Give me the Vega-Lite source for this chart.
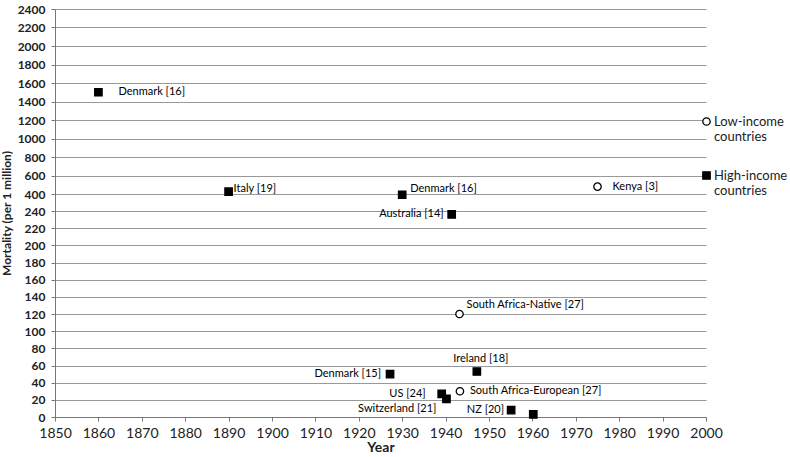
{
  "$schema": "https://vega.github.io/schema/vega-lite/v6.json",
  "width": 651,
  "height": 408,
  "autosize": {"type": "none"},
  "padding": {"left": 55, "top": 9, "right": 84, "bottom": 40},
  "background": "white",
  "config": {
    "view": {"stroke": null},
    "font": "Lato",
    "axis": {"labelFont": "Lato", "titleFont": "Lato"},
    "legend": {"labelFont": "Lato"}
  },
  "data": {
    "values": [
      {"year": 1860, "mortality": 1500, "income": "High-income countries", "label": "Denmark [16]"},
      {"year": 1890, "mortality": 425, "income": "High-income countries", "label": "Italy [19]"},
      {"year": 1930, "mortality": 393, "income": "High-income countries", "label": "Denmark [16]"},
      {"year": 1975, "mortality": 480, "income": "Low-income countries", "label": "Kenya [3]"},
      {"year": 1941.4, "mortality": 236, "income": "High-income countries", "label": "Australia [14]"},
      {"year": 1943.2, "mortality": 120, "income": "Low-income countries", "label": "South Africa-Native [27]"},
      {"year": 1947.2, "mortality": 53, "income": "High-income countries", "label": "Ireland [18]"},
      {"year": 1927.2, "mortality": 50, "income": "High-income countries", "label": "Denmark [15]"},
      {"year": 1939.1, "mortality": 27, "income": "High-income countries", "label": "US [24]"},
      {"year": 1940.2, "mortality": 21, "income": "High-income countries", "label": "Switzerland [21]"},
      {"year": 1943.3, "mortality": 30, "income": "Low-income countries", "label": "South Africa-European [27]"},
      {"year": 1955.1, "mortality": 8, "income": "High-income countries", "label": "NZ [20]"},
      {"year": 1960.2, "mortality": 3, "income": "High-income countries", "label": "Italy [19]"}
    ]
  },
  "encoding": {
    "x": {
      "field": "year", "type": "quantitative",
      "scale": {"domain": [1850, 2000], "nice": false, "zero": false},
      "axis": {
        "title": "Year", "values": [1850,1860,1870,1880,1890,1900,1910,1920,1930,1940,1950,1960,1970,1980,1990,2000],
        "format": "d", "grid": false, "labelFontSize": 14, "labelColor": "#222",
        "titleFontSize": 14, "titleFontWeight": "bold", "titleColor": "#222", "titlePadding": 0,
        "labelPadding": 5, "tickSize": 4, "tickColor": "#777", "domainColor": "#777",
        "labelFlush": false
      }
    },
    "y": {
      "field": "mortality", "type": "quantitative",
      "scale": {"domain": [0, 240, 400, 2400], "range": [408, 202, 185, 0], "nice": false, "zero": false},
      "axis": {
        "title": "Mortality (per 1 million)", "format": "d",
        "values": [0,20,40,60,80,100,120,140,160,180,200,220,240,400,600,800,1000,1200,1400,1600,1800,2000,2200,2400],
        "grid": true, "gridColor": "#999", "gridWidth": 1,
        "labelFontSize": 12, "labelFontWeight": "bold", "labelColor": "#222",
        "titleFontSize": 12, "titleFontWeight": "bold", "titleColor": "#222", "titlePadding": 4,
        "tickSize": 4, "tickColor": "#777", "domainColor": "#777", "labelPadding": 6
      }
    }
  },
  "layer": [
    {
      "mark": {"type": "point", "strokeWidth": 1.3, "opacity": 1, "size": 55},
      "encoding": {
        "shape": {
          "field": "income", "type": "nominal",
          "scale": {"domain": ["Low-income countries", "High-income countries"], "range": ["circle", "square"]},
          "legend": {
            "title": null, "orient": "none", "legendX": 645, "legendY": 106,
            "labelExpr": "split(datum.label, ' ')", "labelFontSize": 13, "labelColor": "#222",
            "symbolSize": 55, "symbolStrokeWidth": 1.3,
            "rowPadding": 25, "labelOffset": 1, "labelLimit": 200
          }
        },
        "fill": {
          "field": "income", "type": "nominal",
          "scale": {"domain": ["Low-income countries", "High-income countries"], "range": ["white", "black"]}
        },
        "stroke": {
          "field": "income", "type": "nominal",
          "scale": {"domain": ["Low-income countries", "High-income countries"], "range": ["black", "black"]}
        }
      }
    },
    {"transform": [{"filter": "datum.label == 'Denmark [16]' && datum.year == 1860"}], "mark": {"type": "text", "align": "left", "dx": 20, "dy": 0, "fontSize": 11}, "encoding": {"text": {"field": "label"}}},
    {"transform": [{"filter": "datum.label == 'Italy [19]' && datum.year == 1890"}], "mark": {"type": "text", "align": "left", "dx": 5, "dy": -3, "fontSize": 11}, "encoding": {"text": {"field": "label"}}},
    {"transform": [{"filter": "datum.label == 'Denmark [16]' && datum.year == 1930"}], "mark": {"type": "text", "align": "left", "dx": 8, "dy": -6, "fontSize": 11}, "encoding": {"text": {"field": "label"}}},
    {"transform": [{"filter": "datum.label == 'Kenya [3]'"}], "mark": {"type": "text", "align": "left", "dx": 15, "dy": 0, "fontSize": 11}, "encoding": {"text": {"field": "label"}}},
    {"transform": [{"filter": "datum.label == 'Australia [14]'"}], "mark": {"type": "text", "align": "right", "dx": -8, "dy": 0, "fontSize": 11}, "encoding": {"text": {"field": "label"}}},
    {"transform": [{"filter": "datum.label == 'South Africa-Native [27]'"}], "mark": {"type": "text", "align": "left", "dx": 7, "dy": -9, "fontSize": 11}, "encoding": {"text": {"field": "label"}}},
    {"transform": [{"filter": "datum.label == 'Ireland [18]'"}], "mark": {"type": "text", "align": "center", "dx": 4, "dy": -13, "fontSize": 11}, "encoding": {"text": {"field": "label"}}},
    {"transform": [{"filter": "datum.label == 'Denmark [15]'"}], "mark": {"type": "text", "align": "right", "dx": -9, "dy": 0, "fontSize": 11}, "encoding": {"text": {"field": "label"}}},
    {"transform": [{"filter": "datum.label == 'US [24]'"}], "mark": {"type": "text", "align": "right", "dx": -16, "dy": 0, "fontSize": 11}, "encoding": {"text": {"field": "label"}}},
    {"transform": [{"filter": "datum.label == 'Switzerland [21]'"}], "mark": {"type": "text", "align": "right", "dx": -10, "dy": 10, "fontSize": 11}, "encoding": {"text": {"field": "label"}}},
    {"transform": [{"filter": "datum.label == 'South Africa-European [27]'"}], "mark": {"type": "text", "align": "left", "dx": 10, "dy": 0, "fontSize": 11}, "encoding": {"text": {"field": "label"}}},
    {"transform": [{"filter": "datum.label == 'NZ [20]'"}], "mark": {"type": "text", "align": "right", "dx": -7, "dy": 0, "fontSize": 11}, "encoding": {"text": {"field": "label"}}},
    {"transform": [{"filter": "datum.label == 'Italy [19]' && datum.year == 1960"}], "mark": {"type": "text", "align": "left", "dx": 7, "dy": -5, "fontSize": 11}, "encoding": {"text": {"field": "label"}}}
  ]
}
